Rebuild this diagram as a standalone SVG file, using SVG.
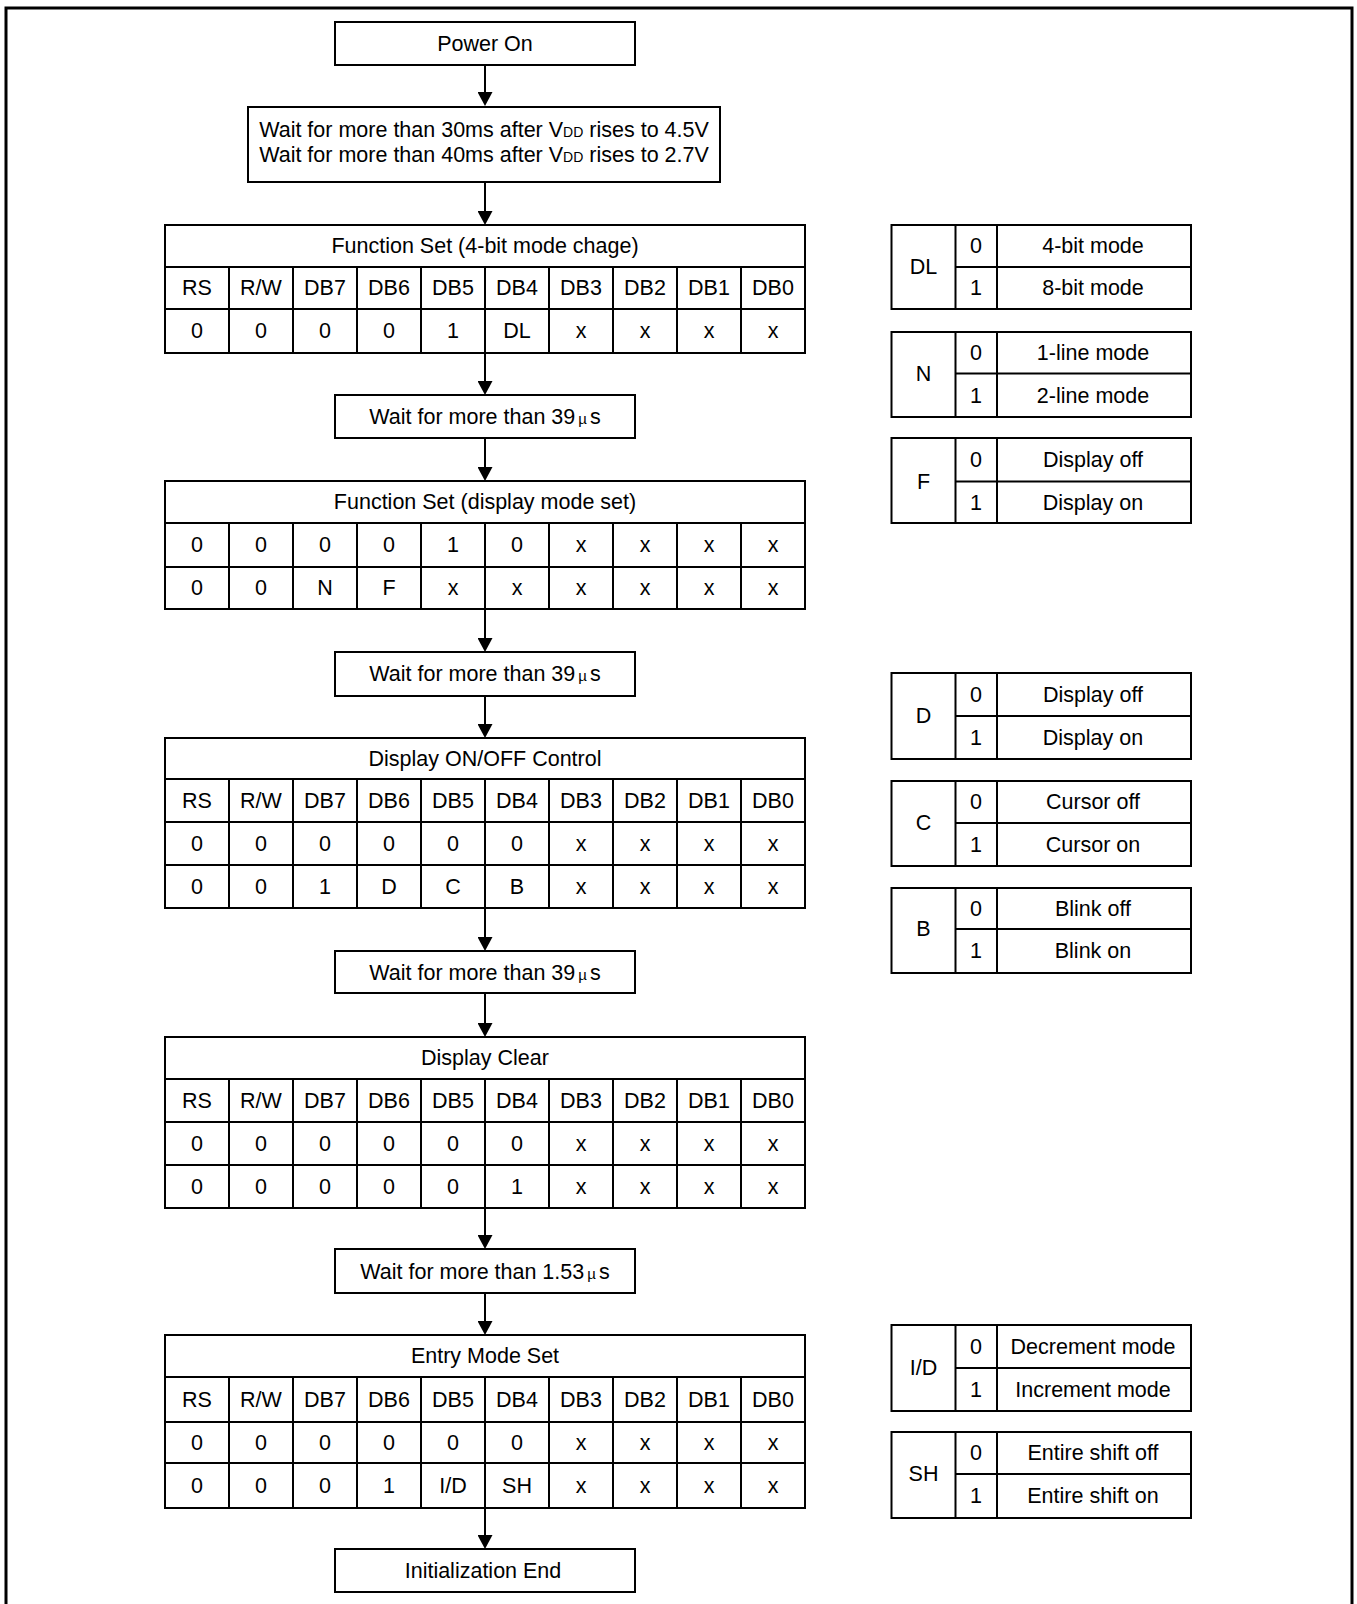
<svg xmlns="http://www.w3.org/2000/svg" width="1357" height="1604" viewBox="0 0 1357 1604">
<defs>
<marker id="ah" viewBox="0 0 14 15" refX="10" refY="7.5" markerWidth="14" markerHeight="15" markerUnits="userSpaceOnUse" orient="auto">
<path d="M0,0 L14,7.5 L0,15 z" fill="#000"/>
</marker>
<style>
text{font-family:"Liberation Sans",Arial,sans-serif;font-size:21.5px;fill:#000;text-anchor:middle}
.box{fill:#fff;stroke:#000;stroke-width:2}
.ln{stroke:#000;stroke-width:2;fill:none}
.con{stroke:#000;stroke-width:2;fill:none;marker-end:url(#ah)}
.mu{font-size:15px}
.sub{font-size:14px}
</style>
</defs>
<rect width="1357" height="1604" fill="#fff"/>
<rect x="6" y="8" width="1346" height="1610" fill="none" stroke="#000" stroke-width="3"/>

<g id="connectors">
<line class="con" x1="485" y1="65" x2="485" y2="102"/>
<line class="con" x1="485" y1="182" x2="485" y2="221"/>
<line class="con" x1="485" y1="353" x2="485" y2="391"/>
<line class="con" x1="485" y1="438" x2="485" y2="477"/>
<line class="con" x1="485" y1="609" x2="485" y2="648"/>
<line class="con" x1="485" y1="696" x2="485" y2="734"/>
<line class="con" x1="485" y1="908" x2="485" y2="947"/>
<line class="con" x1="485" y1="993" x2="485" y2="1033"/>
<line class="con" x1="485" y1="1208" x2="485" y2="1245"/>
<line class="con" x1="485" y1="1293" x2="485" y2="1331"/>
<line class="con" x1="485" y1="1508" x2="485" y2="1545"/>
</g>

<g id="power-on">
<rect class="box" x="335" y="22" width="300" height="43"/>
<text x="485" y="51">Power On</text>
</g>

<g id="wait-vdd">
<rect class="box" x="248" y="107" width="472" height="75"/>
<text x="484" y="137">Wait for more than 30ms after V<tspan class="sub">DD</tspan> rises to 4.5V</text>
<text x="484" y="162">Wait for more than 40ms after V<tspan class="sub">DD</tspan> rises to 2.7V</text>
</g>

<g id="function-set-4bit">
<rect class="box" x="165" y="225" width="640" height="128"/>
<path class="ln" d="M165,267H805M165,309H805M229,267V353M293,267V353M357,267V353M421,267V353M485,267V353M549,267V353M613,267V353M677,267V353M741,267V353"/>
<text x="485" y="253">Function Set (4-bit mode chage)</text>
<text x="197" y="295">RS</text><text x="261" y="295">R/W</text><text x="325" y="295">DB7</text><text x="389" y="295">DB6</text><text x="453" y="295">DB5</text><text x="517" y="295">DB4</text><text x="581" y="295">DB3</text><text x="645" y="295">DB2</text><text x="709" y="295">DB1</text><text x="773" y="295">DB0</text>
<text x="197" y="338">0</text><text x="261" y="338">0</text><text x="325" y="338">0</text><text x="389" y="338">0</text><text x="453" y="338">1</text><text x="517" y="338">DL</text><text x="581" y="338">x</text><text x="645" y="338">x</text><text x="709" y="338">x</text><text x="773" y="338">x</text>
</g>

<g id="wait-39us-1">
<rect class="box" x="335" y="395" width="300" height="43"/>
<text x="485" y="424">Wait for more than 39<tspan class="mu" dx="3">µ</tspan><tspan dx="3">s</tspan></text>
</g>

<g id="function-set-display">
<rect class="box" x="165" y="481" width="640" height="128"/>
<path class="ln" d="M165,523H805M165,567H805M229,523V609M293,523V609M357,523V609M421,523V609M485,523V609M549,523V609M613,523V609M677,523V609M741,523V609"/>
<text x="485" y="509">Function Set (display mode set)</text>
<text x="197" y="552">0</text><text x="261" y="552">0</text><text x="325" y="552">0</text><text x="389" y="552">0</text><text x="453" y="552">1</text><text x="517" y="552">0</text><text x="581" y="552">x</text><text x="645" y="552">x</text><text x="709" y="552">x</text><text x="773" y="552">x</text>
<text x="197" y="595">0</text><text x="261" y="595">0</text><text x="325" y="595">N</text><text x="389" y="595">F</text><text x="453" y="595">x</text><text x="517" y="595">x</text><text x="581" y="595">x</text><text x="645" y="595">x</text><text x="709" y="595">x</text><text x="773" y="595">x</text>
</g>

<g id="wait-39us-2">
<rect class="box" x="335" y="652" width="300" height="44"/>
<text x="485" y="681">Wait for more than 39<tspan class="mu" dx="3">µ</tspan><tspan dx="3">s</tspan></text>
</g>

<g id="display-onoff">
<rect class="box" x="165" y="738" width="640" height="170"/>
<path class="ln" d="M165,779H805M165,822H805M165,865H805M229,779V908M293,779V908M357,779V908M421,779V908M485,779V908M549,779V908M613,779V908M677,779V908M741,779V908"/>
<text x="485" y="765.5">Display ON/OFF Control</text>
<text x="197" y="807.5">RS</text><text x="261" y="807.5">R/W</text><text x="325" y="807.5">DB7</text><text x="389" y="807.5">DB6</text><text x="453" y="807.5">DB5</text><text x="517" y="807.5">DB4</text><text x="581" y="807.5">DB3</text><text x="645" y="807.5">DB2</text><text x="709" y="807.5">DB1</text><text x="773" y="807.5">DB0</text>
<text x="197" y="850.5">0</text><text x="261" y="850.5">0</text><text x="325" y="850.5">0</text><text x="389" y="850.5">0</text><text x="453" y="850.5">0</text><text x="517" y="850.5">0</text><text x="581" y="850.5">x</text><text x="645" y="850.5">x</text><text x="709" y="850.5">x</text><text x="773" y="850.5">x</text>
<text x="197" y="893.5">0</text><text x="261" y="893.5">0</text><text x="325" y="893.5">1</text><text x="389" y="893.5">D</text><text x="453" y="893.5">C</text><text x="517" y="893.5">B</text><text x="581" y="893.5">x</text><text x="645" y="893.5">x</text><text x="709" y="893.5">x</text><text x="773" y="893.5">x</text>
</g>

<g id="wait-39us-3">
<rect class="box" x="335" y="951" width="300" height="42"/>
<text x="485" y="979.5">Wait for more than 39<tspan class="mu" dx="3">µ</tspan><tspan dx="3">s</tspan></text>
</g>

<g id="display-clear">
<rect class="box" x="165" y="1037" width="640" height="171"/>
<path class="ln" d="M165,1079H805M165,1122H805M165,1165H805M229,1079V1208M293,1079V1208M357,1079V1208M421,1079V1208M485,1079V1208M549,1079V1208M613,1079V1208M677,1079V1208M741,1079V1208"/>
<text x="485" y="1065">Display Clear</text>
<text x="197" y="1107.5">RS</text><text x="261" y="1107.5">R/W</text><text x="325" y="1107.5">DB7</text><text x="389" y="1107.5">DB6</text><text x="453" y="1107.5">DB5</text><text x="517" y="1107.5">DB4</text><text x="581" y="1107.5">DB3</text><text x="645" y="1107.5">DB2</text><text x="709" y="1107.5">DB1</text><text x="773" y="1107.5">DB0</text>
<text x="197" y="1150.5">0</text><text x="261" y="1150.5">0</text><text x="325" y="1150.5">0</text><text x="389" y="1150.5">0</text><text x="453" y="1150.5">0</text><text x="517" y="1150.5">0</text><text x="581" y="1150.5">x</text><text x="645" y="1150.5">x</text><text x="709" y="1150.5">x</text><text x="773" y="1150.5">x</text>
<text x="197" y="1193.5">0</text><text x="261" y="1193.5">0</text><text x="325" y="1193.5">0</text><text x="389" y="1193.5">0</text><text x="453" y="1193.5">0</text><text x="517" y="1193.5">1</text><text x="581" y="1193.5">x</text><text x="645" y="1193.5">x</text><text x="709" y="1193.5">x</text><text x="773" y="1193.5">x</text>
</g>

<g id="wait-153us">
<rect class="box" x="335" y="1249" width="300" height="44"/>
<text x="485" y="1278.5">Wait for more than 1.53<tspan class="mu" dx="3">µ</tspan><tspan dx="3">s</tspan></text>
</g>

<g id="entry-mode-set">
<rect class="box" x="165" y="1335" width="640" height="173"/>
<path class="ln" d="M165,1377H805M165,1422H805M165,1463H805M229,1377V1508M293,1377V1508M357,1377V1508M421,1377V1508M485,1377V1508M549,1377V1508M613,1377V1508M677,1377V1508M741,1377V1508"/>
<text x="485" y="1363">Entry Mode Set</text>
<text x="197" y="1406.5">RS</text><text x="261" y="1406.5">R/W</text><text x="325" y="1406.5">DB7</text><text x="389" y="1406.5">DB6</text><text x="453" y="1406.5">DB5</text><text x="517" y="1406.5">DB4</text><text x="581" y="1406.5">DB3</text><text x="645" y="1406.5">DB2</text><text x="709" y="1406.5">DB1</text><text x="773" y="1406.5">DB0</text>
<text x="197" y="1449.5">0</text><text x="261" y="1449.5">0</text><text x="325" y="1449.5">0</text><text x="389" y="1449.5">0</text><text x="453" y="1449.5">0</text><text x="517" y="1449.5">0</text><text x="581" y="1449.5">x</text><text x="645" y="1449.5">x</text><text x="709" y="1449.5">x</text><text x="773" y="1449.5">x</text>
<text x="197" y="1492.5">0</text><text x="261" y="1492.5">0</text><text x="325" y="1492.5">0</text><text x="389" y="1492.5">1</text><text x="453" y="1492.5">I/D</text><text x="517" y="1492.5">SH</text><text x="581" y="1492.5">x</text><text x="645" y="1492.5">x</text><text x="709" y="1492.5">x</text><text x="773" y="1492.5">x</text>
</g>

<g id="init-end">
<rect class="box" x="335" y="1549" width="300" height="43"/>
<text x="483" y="1578">Initialization End</text>
</g>

<g id="legend-dl">
<rect class="box" x="891.5" y="225" width="299.5" height="84"/>
<path class="ln" d="M955.5,225V309M997,225V309M955.5,267H1191"/>
<text x="923.5" y="274">DL</text>
<text x="976" y="253">0</text><text x="1093" y="253">4-bit mode</text>
<text x="976" y="295">1</text><text x="1093" y="295">8-bit mode</text>
</g>
<g id="legend-n">
<rect class="box" x="891.5" y="332" width="299.5" height="85"/>
<path class="ln" d="M955.5,332V417M997,332V417M955.5,373.5H1191"/>
<text x="923.5" y="381">N</text>
<text x="976" y="360">0</text><text x="1093" y="360">1-line mode</text>
<text x="976" y="402.5">1</text><text x="1093" y="402.5">2-line mode</text>
</g>
<g id="legend-f">
<rect class="box" x="891.5" y="438" width="299.5" height="85"/>
<path class="ln" d="M955.5,438V523M997,438V523M955.5,481.5H1191"/>
<text x="923.5" y="488.5">F</text>
<text x="976" y="467">0</text><text x="1093" y="467">Display off</text>
<text x="976" y="509.5">1</text><text x="1093" y="509.5">Display on</text>
</g>
<g id="legend-d">
<rect class="box" x="891.5" y="673" width="299.5" height="86"/>
<path class="ln" d="M955.5,673V759M997,673V759M955.5,716H1191"/>
<text x="923.5" y="723">D</text>
<text x="976" y="701.5">0</text><text x="1093" y="701.5">Display off</text>
<text x="976" y="744.5">1</text><text x="1093" y="744.5">Display on</text>
</g>
<g id="legend-c">
<rect class="box" x="891.5" y="781" width="299.5" height="85"/>
<path class="ln" d="M955.5,781V866M997,781V866M955.5,823H1191"/>
<text x="923.5" y="830">C</text>
<text x="976" y="809">0</text><text x="1093" y="809">Cursor off</text>
<text x="976" y="851.5">1</text><text x="1093" y="851.5">Cursor on</text>
</g>
<g id="legend-b">
<rect class="box" x="891.5" y="888" width="299.5" height="85"/>
<path class="ln" d="M955.5,888V973M997,888V973M955.5,929H1191"/>
<text x="923.5" y="936">B</text>
<text x="976" y="915.5">0</text><text x="1093" y="915.5">Blink off</text>
<text x="976" y="958">1</text><text x="1093" y="958">Blink on</text>
</g>
<g id="legend-id">
<rect class="box" x="891.5" y="1325" width="299.5" height="86"/>
<path class="ln" d="M955.5,1325V1411M997,1325V1411M955.5,1368H1191"/>
<text x="923.5" y="1375">I/D</text>
<text x="976" y="1353.5">0</text><text x="1093" y="1353.5">Decrement mode</text>
<text x="976" y="1396.5">1</text><text x="1093" y="1396.5">Increment mode</text>
</g>
<g id="legend-sh">
<rect class="box" x="891.5" y="1432" width="299.5" height="86"/>
<path class="ln" d="M955.5,1432V1518M997,1432V1518M955.5,1474H1191"/>
<text x="923.5" y="1481">SH</text>
<text x="976" y="1460">0</text><text x="1093" y="1460">Entire shift off</text>
<text x="976" y="1503">1</text><text x="1093" y="1503">Entire shift on</text>
</g>
</svg>
